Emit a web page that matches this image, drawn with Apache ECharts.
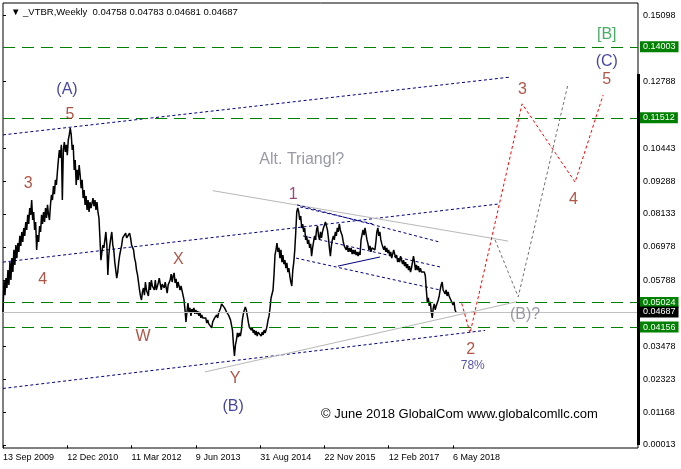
<!DOCTYPE html>
<html><head><meta charset="utf-8">
<script src="https://cdn.jsdelivr.net/npm/echarts@6/dist/echarts.min.js"></script>
<style>html,body{margin:0;padding:0;background:#fff}#c{width:681px;height:469px}</style>
</head><body><div id="c"></div>
<script>
// weekly closes: [bar index from 13 Sep 2009, price]
const weeklyPrices = [
[0,0.0469],[1,0.0581],[2,0.0528],[3,0.0588],[4,0.0553],[5,0.0616],[6,0.0564],[7,0.0644],[8,0.0581],[9,0.0658],
[10,0.0609],[11,0.0687],[12,0.0634],[13,0.0704],[14,0.0658],[15,0.0711],[16,0.0680],[17,0.0736],[18,0.0701],[19,0.0750],
[20,0.0715],[21,0.0764],[22,0.0736],[23,0.0785],[24,0.0757],[25,0.0810],[26,0.0778],[27,0.0834],[28,0.0810],[29,0.0862],
[30,0.0792],[31,0.0820],[32,0.0757],[33,0.0785],[34,0.0687],[35,0.0739],[36,0.0715],[37,0.0771],[38,0.0750],[39,0.0810],
[40,0.0778],[41,0.0820],[42,0.0785],[43,0.0834],[44,0.0799],[45,0.0845],[46,0.0810],[47,0.0792],[48,0.0845],[49,0.0880],
[50,0.0862],[51,0.0911],[52,0.0883],[53,0.0933],[54,0.0915],
[55,0.0961],[56,0.1003],[57,0.1038],[58,0.1010],[59,0.1056],[60,0.0862],[61,0.1038],[62,0.1066],[63,0.1031],[64,0.1056],
[65,0.1020],[66,0.1073],[67,0.1091],[68,0.1115],[69,0.1091],[70,0.1038],[71,0.1056],[72,0.0968],[73,0.1003],[74,0.0915],
[75,0.0968],[76,0.0933],[77,0.0985],[78,0.0950],[79,0.0904],[80,0.0933],[81,0.0869],[82,0.0897],[83,0.0845],[84,0.0876],
[85,0.0827],[86,0.0862],[87,0.0820],[88,0.0855],[89,0.0834],[91,0.0869],[92,0.0841],[93,0.0862],[94,0.0827],[95,0.0855],
[96,0.0820],[97,0.0799],
[98,0.0729],[99,0.0651],[100,0.0680],[101,0.0704],[102,0.0694],[103,0.0722],[104,0.0750],[105,0.0704],[106,0.0599],[107,0.0669],
[108,0.0704],[109,0.0729],[110,0.0750],[111,0.0704],[112,0.0687],[113,0.0644],[114,0.0616],[115,0.0588],[116,0.0609],[117,0.0644],
[118,0.0669],[119,0.0687],[120,0.0704],[121,0.0729],[122,0.0736],[123,0.0722],[124,0.0746],[125,0.0729],[126,0.0736],[127,0.0722],
[128,0.0746],[129,0.0729],[130,0.0704],[132,0.0687],[133,0.0658],[134,0.0644],[135,0.0616],[136,0.0599],[137,0.0574],[138,0.0546],
[139,0.0525],[140,0.0511],[141,0.0539],[142,0.0553],[143,0.0528],[144,0.0574],[145,0.0546],[146,0.0553],[147,0.0525],[148,0.0574],
[149,0.0546],[150,0.0581],[151,0.0560],[153,0.0546],
[154,0.0581],[155,0.0546],[157,0.0571],[158,0.0588],[160,0.0546],[161,0.0567],[163,0.0553],[164,0.0574],[166,0.0535],[167,0.0564],
[169,0.0581],[170,0.0602],[171,0.0574],[172,0.0595],[173,0.0606],[174,0.0571],[175,0.0585],[176,0.0553],[177,0.0574],[179,0.0546],
[180,0.0560],[182,0.0528],[183,0.0511],[184,0.0476],[185,0.0434],[186,0.0469],[187,0.0500],[188,0.0469],[189,0.0483],[190,0.0455],
[191,0.0479],[192,0.0469],[193,0.0483],[194,0.0462],[195,0.0476],[196,0.0462],[197,0.0472],[198,0.0455],[199,0.0469],[200,0.0448],
[201,0.0458],[202,0.0448],[203,0.0455],[204,0.0441],[205,0.0448],[206,0.0430],[207,0.0441],[208,0.0427],[209,0.0434],[210,0.0420],
[211,0.0413],[212,0.0434],[213,0.0427],[214,0.0448],[215,0.0441],[216,0.0458],[217,0.0448],[218,0.0465],[219,0.0462],[220,0.0483],
[221,0.0497],[222,0.0490],[223,0.0504],[224,0.0483],[225,0.0490],[226,0.0469],[227,0.0476],[228,0.0458],[229,0.0465],[230,0.0441],
[231,0.0448],[232,0.0405],[233,0.0353],[234,0.0314],[235,0.0353],[236,0.0370],[237,0.0395],[238,0.0381],[239,0.0395],[240,0.0384],
[241,0.0405],[242,0.0441],[243,0.0462],[244,0.0476],[245,0.0486],[246,0.0476],[247,0.0455],[248,0.0434],[249,0.0416],[250,0.0423],
[251,0.0405],[252,0.0413],[253,0.0395],[254,0.0405],[255,0.0388],[256,0.0402],[257,0.0384],[258,0.0398],[259,0.0391],[260,0.0405],
[261,0.0384],[262,0.0398],[263,0.0388],[264,0.0405],[265,0.0395],[266,0.0405],[267,0.0420],[268,0.0441],[269,0.0455],[270,0.0483],
[271,0.0518],[273,0.0546],[274,0.0599],[275,0.0669],[276,0.0687],[277,0.0711],[278,0.0680],[279,0.0694],[280,0.0658],[281,0.0687],
[282,0.0644],[283,0.0669],[284,0.0637],[285,0.0651],[286,0.0623],[287,0.0641],[288,0.0609],[289,0.0623],[290,0.0595],[291,0.0574],
[292,0.0560],[293,0.0616],[294,0.0644],[295,0.0687],[296,0.0750],[297,0.0820],[298,0.0834],
[299,0.0820],[300,0.0792],[301,0.0806],[302,0.0764],[303,0.0778],[304,0.0750],[305,0.0764],[306,0.0722],[307,0.0736],[308,0.0708],
[309,0.0722],[310,0.0694],[311,0.0708],[312,0.0665],[313,0.0694],[314,0.0715],[315,0.0736],[316,0.0722],[317,0.0757],[318,0.0771],
[319,0.0736],[320,0.0722],[321,0.0750],[322,0.0729],[323,0.0750],[324,0.0764],[325,0.0771],[326,0.0785],[327,0.0792],[328,0.0757],
[329,0.0729],[330,0.0694],[331,0.0665],[332,0.0701],[333,0.0722],[334,0.0736],[335,0.0722],[336,0.0750],[337,0.0736],[338,0.0764],
[339,0.0750],[340,0.0778],[341,0.0757],[342,0.0764],[343,0.0736],[344,0.0715],[345,0.0701],[346,0.0708],[347,0.0687],[348,0.0701],
[349,0.0680],[350,0.0694],[351,0.0680],[352,0.0694],[353,0.0672],[354,0.0687],[355,0.0672],[356,0.0687],[357,0.0669],[358,0.0680],
[359,0.0665],[360,0.0680],[361,0.0669],[362,0.0722],[364,0.0757],[365,0.0739],[366,0.0764],[367,0.0743],[368,0.0722],[369,0.0708],
[370,0.0687],[371,0.0701],[372,0.0680],[373,0.0694],[374,0.0687],[375,0.0701],[376,0.0687],[377,0.0715],[378,0.0750],[379,0.0764],
[380,0.0736],[381,0.0750],[382,0.0722],[383,0.0708],[384,0.0701],[385,0.0687],[386,0.0701],[387,0.0680],[388,0.0694],[389,0.0676],
[390,0.0687],[391,0.0665],[392,0.0680],[393,0.0658],[394,0.0672],[395,0.0687],[396,0.0672],[397,0.0658],[398,0.0669],[399,0.0644],
[400,0.0658],[401,0.0644],[402,0.0665],[403,0.0651],[404,0.0637],[405,0.0651],[406,0.0630],[407,0.0644],[408,0.0623],[409,0.0637],
[410,0.0616],[411,0.0630],[412,0.0609],[413,0.0623],[414,0.0644],[415,0.0665],[416,0.0644],[417,0.0616],[418,0.0634],[419,0.0616],
[420,0.0630],[421,0.0609],[422,0.0623],[423,0.0609],[424,0.0616],[425,0.0602],[426,0.0609],[427,0.0595],[428,0.0546],[429,0.0504],
[430,0.0518],[431,0.0490],[432,0.0504],[433,0.0469],[434,0.0448],[435,0.0483],[436,0.0497],[437,0.0476],[438,0.0490],[439,0.0483],
[440,0.0511],[441,0.0525],[442,0.0546],[443,0.0564],[444,0.0574],[445,0.0546],[446,0.0553],[447,0.0532],[448,0.0546],[449,0.0525],
[450,0.0539],[451,0.0525],[452,0.0532],[453,0.0518],[455,0.0493],[456,0.0504],[457,0.0476],[458,0.04687]
];

const xTickBars = [0, 65, 130, 195, 260, 325, 390, 455];
const xTickLabels = ['13 Sep 2009','12 Dec 2010','11 Mar 2012','9 Jun 2013','31 Aug 2014','22 Nov 2015','12 Feb 2017','6 May 2018'];
const yTickValues = [0.00013,0.01168,0.02323,0.03478,0.05788,0.06978,0.08133,0.09288,0.10443,0.12788,0.15098];
const levelLines = [0.14003, 0.11512, 0.05024, 0.04156];
const lastPrice = 0.04687;
const headerText = '\u25BC _VTBR,Weekly  0.04758 0.04783 0.04681 0.04687';

// trend lines [bar, price]
const upperChannel = [[0,0.1091],[512.6,0.1294]];
const middleChannel = [[0,0.0644],[500.5,0.0848]];
const lowerChannel = [[0,0.0200],[487.4,0.0404]];
const triangleTop = [[212,0.0895],[510.6,0.0718]];
const triangleBottom = [[204.2,0.0258],[519.7,0.0505]];
const innerLineA = [[297.3,0.0845],[440.8,0.0715]];
const innerLineB = [[300.3,0.0838],[374.1,0.0778]];
const innerLineC = [[303.3,0.0736],[441.9,0.0627]];
const innerLineD = [[296.3,0.0658],[441.9,0.0546]];
const innerLineE = [[338.7,0.0630],[381.2,0.0662]];
const redProjection = [[463.8,0.0499],[472.2,0.0394],[524.8,0.1200],[578.4,0.0925],[606.7,0.1231]];
const grayProjection = [[497.5,0.0722],[520.9,0.0522],[571,0.1266]];
const scaleBar = [[642,0.00013],[642,0.1305]];

// text annotations [bar, price, text]
const navyLabels = [[64.7,0.1249,'(A)'],[232.6,0.0135,'(B)'],[610.4,0.1348,'(C)']];
const redLabels = [[67.8,0.1161,'5'],[25.6,0.0921,'3'],[40.1,0.0581,'4'],[177.3,0.0654,'X'],[141.6,0.0381,'W'],[234.6,0.0233,'Y'],[472.9,0.0338,'2'],[525.1,0.1249,'3'],[576.7,0.0865,'4'],[610.4,0.1284,'5']];
const purpleLabels = [[293.5,0.0880,'1']];
const grayLabels = [[302,0.1003,'Alt. Triangl?'],[527.8,0.0458,'(B)?']];
const pctLabels = [[474.9,0.0279,'78%']];
const greenLabels = [[610.4,0.1442,'[B]']];
const copyright = '\u00A9 June 2018 GlobalCom www.globalcomllc.com';

const FONT = 'Liberation Sans';
const chart = echarts.init(document.getElementById('c'), null, {renderer:'canvas'});

function seg(data, color, type, width, z) {
  return {type:'line', data:data, showSymbol:false, symbol:'none', silent:true, animation:false, z:z||3,
    lineStyle:{color:color, width:width||1, type:type||'solid'}};
}
function txt(data, color, size) {
  return {type:'scatter', data:data.map(d=>({value:[d[0],d[1]], name:d[2]})), symbolSize:1, silent:true, animation:false, z:6,
    itemStyle:{color:'rgba(0,0,0,0)'},
    label:{show:true, position:'inside', formatter:p=>p.name, color:color, fontSize:size, fontFamily:FONT}};
}
const dot = [3,2.5];
const greenDash = {color:'#008000', width:1, type:[12,7]};

const option = {
  backgroundColor:'#fff',
  animation:false,
  title:{text:headerText, left:6, top:2, textStyle:{fontSize:9.5, fontWeight:'normal', color:'#000', fontFamily:FONT}},
  grid:{left:3, top:3, right:43, bottom:21, show:true, borderColor:'#000', borderWidth:1, backgroundColor:'#fff'},
  xAxis:{type:'value', min:0, max:642,
    axisLine:{show:false}, splitLine:{show:false},
    axisTick:{show:true, customValues:xTickBars, length:3, lineStyle:{color:'#000'}},
    axisLabel:{customValues:xTickBars, formatter:v=>xTickLabels[xTickBars.indexOf(Math.round(v))]||'', align:'left', margin:5, color:'#000', fontSize:9, fontFamily:FONT}},
  yAxis:{type:'value', position:'right', min:-0.000923, max:0.155446, scale:true,
    axisLine:{show:false}, splitLine:{show:false},
    axisTick:{show:true, customValues:yTickValues, length:3, lineStyle:{color:'#000'}},
    axisLabel:{customValues:yTickValues, formatter:v=>v.toFixed(5), margin:5, color:'#000', fontSize:9, fontFamily:FONT}},
  graphic:[{type:'text', left:321, top:408, silent:true, style:{text:copyright, fontSize:13, fontFamily:FONT, fill:'#000'}}],
  series:[
    {type:'line', data:[], silent:true, z:2,
      markLine:{silent:true, symbol:'none', animation:false, precision:5,
        data:levelLines.map(v=>({yAxis:v, lineStyle:greenDash})),
        lineStyle:greenDash,
        label:{show:true, position:'end', distance:2, formatter:p=>Number(p.value).toFixed(5), color:'#fff', backgroundColor:'#008000', padding:[1,3,1,3], fontSize:9, fontFamily:FONT}}},
    {type:'line', data:[], silent:true, z:2,
      markLine:{silent:true, symbol:'none', animation:false, precision:5,
        data:[{yAxis:lastPrice}],
        lineStyle:{color:'#c0c0c0', width:1, type:'solid'},
        label:{show:true, position:'end', distance:2, formatter:p=>Number(p.value).toFixed(5), color:'#fff', backgroundColor:'#000', padding:[1,3,1,3], fontSize:9, fontFamily:FONT}}},
    seg(upperChannel,'#000080',dot),
    seg(middleChannel,'#000080',dot),
    seg(lowerChannel,'#000080',dot),
    seg(triangleTop,'#b8b8b8','solid'),
    seg(triangleBottom,'#b8b8b8','solid'),
    seg(innerLineA,'#000080',dot),
    seg(innerLineB,'#000080',dot),
    seg(innerLineC,'#000080',dot),
    seg(innerLineD,'#000080',dot),
    seg(innerLineE,'#000080','solid'),
    {type:'line', data:weeklyPrices, showSymbol:false, symbol:'none', silent:true, animation:false, sampling:null, z:4,
      lineStyle:{color:'#000', width:1.5}},
    seg(redProjection,'#ff0000',dot,1,5),
    seg(grayProjection,'#707070',dot,1,5),
    {type:'line', data:[], silent:true, clip:false, z:7,
      markLine:{silent:true, symbol:'none', animation:false, data:[[{coord:scaleBar[0]},{coord:scaleBar[1]}]],
        lineStyle:{color:'#000', width:3, type:'solid'}, label:{show:false}}},
    txt(navyLabels,'#14148c',16),
    txt(redLabels,'#9a2a1a',16),
    txt(purpleLabels,'#7a1a5a',16),
    txt(grayLabels,'#808090',16),
    txt(pctLabels,'#2a2a9a',12),
    txt(greenLabels,'#1a9a40',16)
  ]
};
chart.setOption(option);
</script></body></html>
